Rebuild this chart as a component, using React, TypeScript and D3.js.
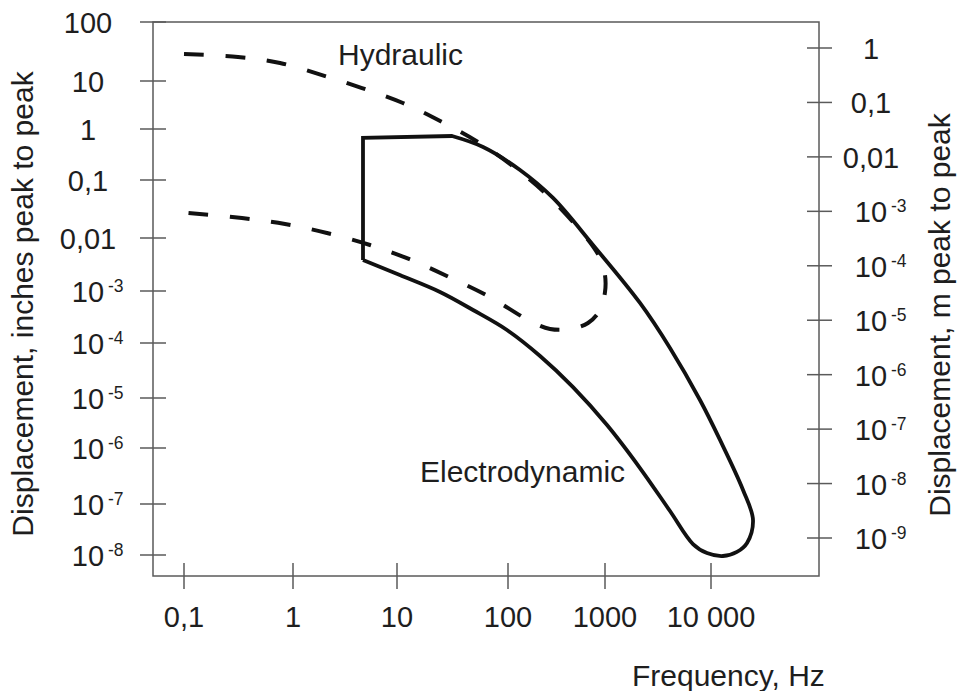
import React, { useLayoutEffect, useRef, useState } from 'react';
import * as d3 from 'd3';

// ---- data ----
const freqTicks = [0.1, 1, 10, 100, 1000, 10000];
const freqTickLabels = ['0,1', '1', '10', '100', '1000', '10 000'];

const inchTicks = [100, 10, 1, 0.1, 0.01, 1e-3, 1e-4, 1e-5, 1e-6, 1e-7, 1e-8];
const inchTickLabels = ['100', '10', '1', '0,1', '0,01', '10^-3', '10^-4', '10^-5', '10^-6', '10^-7', '10^-8'];

const meterTicks = [1, 0.1, 0.01, 1e-3, 1e-4, 1e-5, 1e-6, 1e-7, 1e-8, 1e-9];
const meterTickLabels = ['1', '0,1', '0,01', '10^-3', '10^-4', '10^-5', '10^-6', '10^-7', '10^-8', '10^-9'];

// Hydraulic envelope (dashed): frequency Hz, displacement inches p-p
const hydraulicFreq = [0.1, 0.313, 0.76, 1.9, 4.61, 11.3, 25.4, 53.7, 115, 247, 468, 735, 887, 1000, 1000, 887, 668, 435, 271, 169, 66.1, 29.4, 12.8, 5.5, 2.12, 0.845, 0.34, 0.11];
const hydraulicDisp = [28.7, 25.5, 20.2, 12.6, 7.14, 3.48, 1.4, 0.556, 0.18, 0.0574, 0.0189, 0.00738, 0.0042, 0.002, 0.000957, 0.000431, 0.000243, 0.000186, 0.000186, 0.000265, 0.000801, 0.00184, 0.00402, 0.00738, 0.0122, 0.0174, 0.0221, 0.027];

// Electrodynamic envelope (solid): corner part (straight) then curved part
const electroCornerFreq = [4.71, 4.71, 31.3];
const electroCornerDisp = [0.00385, 0.667, 0.729];
const electroCurveFreq = [31.3, 59.6, 133, 291, 752, 2138, 4102, 7870, 12160, 20050, 24900, 21880, 17580, 12970, 9160, 6761, 4102, 2138, 1045, 468, 214, 97.9, 48.4, 24.4, 10.6, 4.71];
const electroCurveDisp = [0.729, 0.444, 0.157, 0.049, 0.00738, 5.88e-4, 8.11e-5, 9.12e-6, 1.45e-6, 1.78e-7, 4.85e-8, 1.72e-8, 1.15e-8, 9.55e-9, 1.09e-8, 1.64e-8, 7.29e-8, 4.39e-7, 2.88e-6, 1.58e-5, 5.81e-5, 1.78e-4, 4.31e-4, 9.57e-4, 2.0e-3, 0.00385];

const W = 958;
const H = 691;
const FONT = '"Liberation Sans", Arial, Helvetica, sans-serif';
const TEXT = '#1e1e1e';
const AXIS = '#5a5a5a';

function TickLabel({ cx, y, label }: { cx: number; y: number; label: string }) {
  if (label.startsWith('10^')) {
    const exp = label.slice(3);
    return (
      <g>
        <text x={cx} y={y} textAnchor="middle" fontSize={29} fill={TEXT} fontFamily={FONT}>10</text>
        <text x={cx + 20} y={y - 10} fontSize={17.5} fill={TEXT} fontFamily={FONT}>{exp}</text>
      </g>
    );
  }
  return (
    <text x={cx} y={y} textAnchor="middle" fontSize={29} fill={TEXT} fontFamily={FONT}>{label}</text>
  );
}

export default function App() {
  const frameL = 153, frameR = 819, frameT = 22, frameB = 576;
  const hydRef = useRef<SVGPathElement | null>(null);
  const [dash, setDash] = useState('20 22');

  const x = d3.scaleLog().domain(freqTicks).range([184, 293, 397, 508, 605, 711]);
  const yIn = d3.scaleLog().domain(inchTicks).range([22, 81, 129, 180, 238, 291, 343, 398, 448, 504, 555]);
  const yM = d3.scaleLog().domain([1e-9, 1]).range([538, 48]);

  const hydPts: [number, number][] = hydraulicFreq.map((f, i) => [x(f), yIn(hydraulicDisp[i])]);
  const hydPath = d3.line().curve(d3.curveCatmullRom.alpha(0.5))(hydPts) || '';

  const cornerPts: [number, number][] = electroCornerFreq.map((f, i) => [x(f), yIn(electroCornerDisp[i])]);
  const curvePts: [number, number][] = electroCurveFreq.map((f, i) => [x(f), yIn(electroCurveDisp[i])]);
  const elPath = (d3.line()(cornerPts) || '') + (d3.line().curve(d3.curveCatmullRom.alpha(0.5))(curvePts) || '').replace(/^M[^LC]*/, '');

  useLayoutEffect(() => {
    const p = hydRef.current;
    if (!p) return;
    const L = p.getTotalLength();
    const baseDash = 20, basePeriod = 42;
    const n = Math.max(1, Math.round((L - baseDash) / basePeriod));
    const period = (L - baseDash) / n;
    const d = baseDash * period / basePeriod;
    setDash(`${d.toFixed(2)} ${(period - d).toFixed(2)}`);
  }, [hydPath]);

  return (
    <svg width={W} height={H} style={{ position: 'absolute', left: 0, top: 0, background: '#fff' }}>
      <rect x={0} y={0} width={W} height={H} fill="#fff" />
      {/* frame */}
      <rect x={frameL} y={frameT} width={frameR - frameL} height={frameB - frameT} fill="none" stroke={AXIS} strokeWidth={1.5} />
      {/* left ticks */}
      {inchTicks.map((t, i) => (
        <g key={'li' + i}>
          <line x1={140} x2={166} y1={yIn(t)} y2={yIn(t)} stroke={AXIS} strokeWidth={1.5} />
          <TickLabel cx={88} y={yIn(t) + 11} label={inchTickLabels[i]} />
        </g>
      ))}
      {/* right ticks */}
      {meterTicks.map((t, i) => (
        <g key={'rm' + i}>
          <line x1={807} x2={832} y1={yM(t)} y2={yM(t)} stroke={AXIS} strokeWidth={1.5} />
          <TickLabel cx={871} y={yM(t) + 11} label={meterTickLabels[i]} />
        </g>
      ))}
      {/* bottom ticks */}
      {freqTicks.map((t, i) => (
        <g key={'bf' + i}>
          <line x1={x(t)} x2={x(t)} y1={563} y2={589} stroke={AXIS} strokeWidth={1.5} />
          <text x={x(t)} y={627} textAnchor="middle" fontSize={29} fill={TEXT} fontFamily={FONT}>{freqTickLabels[i]}</text>
        </g>
      ))}

      {/* curves */}
      <path ref={hydRef} d={hydPath} fill="none" stroke="#111" strokeWidth={4} strokeDasharray={dash} strokeLinejoin="round" />
      <path d={elPath} fill="none" stroke="#111" strokeWidth={3.8} strokeLinejoin="miter" />

      {/* annotations */}
      <text x={338} y={65} fontSize={30} fill={TEXT} fontFamily={FONT}>Hydraulic</text>
      <text x={420} y={482} fontSize={30} fill={TEXT} fontFamily={FONT}>Electrodynamic</text>

      {/* axis titles */}
      <text x={632} y={686} fontSize={30} fill={TEXT} fontFamily={FONT}>Frequency, Hz</text>
      <text transform="translate(33,304) rotate(-90)" textAnchor="middle" fontSize={30} fill={TEXT} fontFamily={FONT}>Displacement, inches peak to peak</text>
      <text transform="translate(950,315) rotate(-90)" textAnchor="middle" fontSize={30} fill={TEXT} fontFamily={FONT}>Displacement, m peak to peak</text>
    </svg>
  );
}
